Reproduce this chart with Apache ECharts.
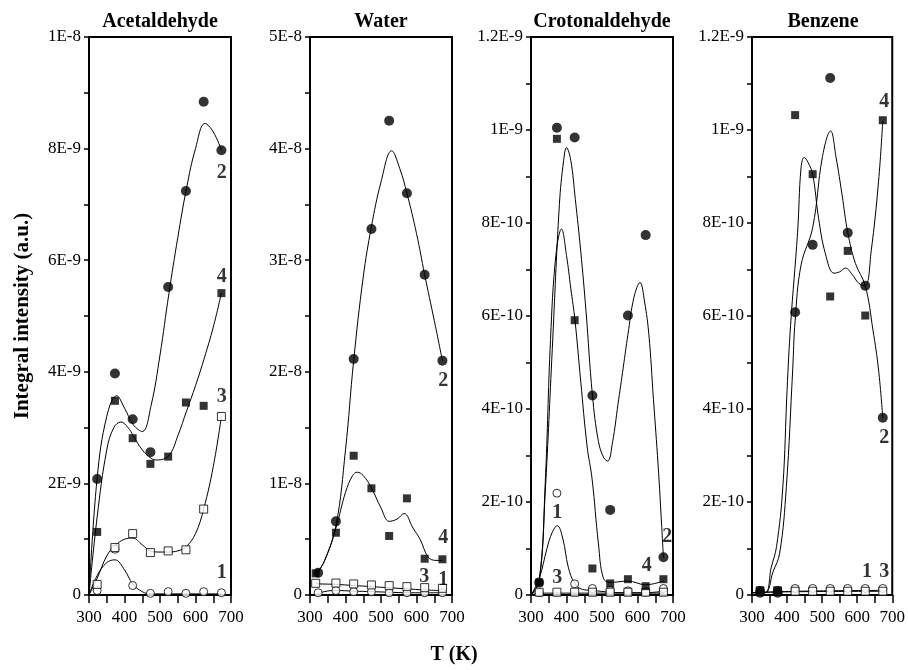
<!DOCTYPE html>
<html>
<head>
<meta charset="utf-8">
<script src="https://cdn.jsdelivr.net/npm/echarts@6/dist/echarts.min.js"></script>
<style>
  html, body { margin: 0; padding: 0; background: #fff; }
  #chart { width: 908px; height: 670px; }
</style>
</head>
<body>
<div id="chart"></div>
<script>
// measured temperatures (K)
const temps = [323, 373, 423, 473, 523, 573, 623, 673]
const waterSquareT = [316, 373, 423, 473, 523, 573, 623, 673]

// Acetaldehyde, units of 1E-9
const acetTicks = ['0', '2E-9', '4E-9', '6E-9', '8E-9', '1E-8']
const acetS1 = [0.08, 0.82, 0.17, 0.03, 0.06, 0.03, 0.06, 0.04]
const acetS2 = [2.08, 3.97, 3.15, 2.56, 5.52, 7.24, 8.84, 7.97]
const acetS3 = [0.19, 0.85, 1.10, 0.76, 0.79, 0.81, 1.54, 3.20]
const acetS4 = [1.13, 3.48, 2.81, 2.35, 2.48, 3.45, 3.39, 5.41]
const acetFit1 = [[300, 0], [323, 0.35], [350, 0.58], [373, 0.63], [400, 0.45], [423, 0.2], [450, 0.06], [475, 0.02], [525, 0.02], [575, 0.02], [625, 0.02], [673, 0.02]]
const acetFit2 = [[300, 0], [323, 2.1], [350, 3.2], [378, 3.57], [400, 3.35], [425, 3.05], [450, 2.93], [475, 3.4], [500, 4.3], [525, 5.4], [550, 6.4], [575, 7.3], [600, 8.0], [627, 8.45], [650, 8.3], [673, 7.97]]
const acetFit3 = [[300, 0], [323, 0.3], [350, 0.7], [373, 0.88], [400, 1.0], [423, 1.02], [450, 0.9], [473, 0.79], [500, 0.77], [523, 0.77], [550, 0.79], [573, 0.86], [600, 1.1], [623, 1.54], [650, 2.3], [673, 3.2]]
const acetFit4 = [[300, 0], [323, 1.4], [350, 2.6], [370, 3.0], [390, 3.1], [410, 3.0], [425, 2.85], [450, 2.6], [475, 2.45], [491, 2.42], [525, 2.5], [550, 2.85], [575, 3.3], [600, 3.75], [625, 4.25], [650, 4.8], [673, 5.41]]
const acetLabels = [[674, 7.56, '2'], [674, 5.7, '4'], [674, 3.55, '3'], [674, 0.39, '1']]

// Water, units of 1E-8
const waterTicks = ['0', '1E-8', '2E-8', '3E-8', '4E-8', '5E-8']
const waterS1 = [0.02, 0.04, 0.03, 0.03, 0.02, 0.02, 0.02, 0.02]
const waterS2 = [0.2, 0.66, 2.115, 3.28, 4.25, 3.6, 2.87, 2.1]
const waterS3 = [0.105, 0.107, 0.099, 0.09, 0.084, 0.075, 0.066, 0.06]
const waterS4 = [0.194, 0.558, 1.248, 0.956, 0.529, 0.866, 0.325, 0.32]
const waterFit1 = [[316, 0.0], [340, 0.03], [373, 0.04], [423, 0.035], [473, 0.03], [523, 0.025], [573, 0.02], [623, 0.02], [673, 0.02]]
const waterFit2 = [[316, 0.18], [340, 0.3], [373, 0.62], [400, 1.3], [423, 2.1], [450, 2.85], [473, 3.3], [500, 3.7], [530, 3.98], [553, 3.82], [573, 3.6], [600, 3.24], [623, 2.87], [650, 2.46], [673, 2.1]]
const waterFit3 = [[316, 0.1], [373, 0.095], [423, 0.085], [473, 0.075], [523, 0.065], [573, 0.055], [623, 0.045], [673, 0.04]]
const waterFit4 = [[316, 0.18], [340, 0.3], [373, 0.6], [400, 0.92], [420, 1.07], [433, 1.1], [450, 1.07], [473, 0.96], [500, 0.78], [523, 0.66], [545, 0.68], [565, 0.73], [590, 0.6], [610, 0.5], [633, 0.34], [655, 0.31], [673, 0.31]]
const waterLabels = [[675, 1.92, '2'], [675, 0.508, '4'], [622, 0.159, '3'], [675, 0.134, '1']]

// Crotonaldehyde, units of 1E-10
const crotTicks = ['0', '2E-10', '4E-10', '6E-10', '8E-10', '1E-9', '1.2E-9']
const crotS1 = [0.05, 2.19, 0.24, 0.14, 0.1, 0.09, 0.06, 0.14]
const crotS2 = [0.27, 10.05, 9.84, 4.29, 1.83, 6.01, 7.74, 0.81]
const crotS3 = [0.06, 0.06, 0.06, 0.06, 0.06, 0.06, 0.06, 0.06]
const crotS4 = [0.27, 9.81, 5.91, 0.57, 0.25, 0.34, 0.19, 0.34]
const crotFit1 = [[300, 0], [323, 0.35], [345, 1.0], [360, 1.35], [374, 1.49], [390, 1.2], [405, 0.6], [423, 0.25], [445, 0.12], [473, 0.1], [523, 0.06], [573, 0.05], [623, 0.05], [673, 0.08]]
const crotFit2 = [[300, 0], [323, 0.3], [340, 2.2], [360, 5.3], [380, 8.4], [392, 9.35], [400, 9.62], [412, 9.35], [425, 8.5], [440, 7.4], [455, 6.1], [473, 4.3], [490, 3.3], [505, 2.95], [516, 2.88], [530, 3.3], [545, 4.1], [560, 4.9], [573, 5.6], [590, 6.4], [607, 6.72], [620, 6.3], [632, 5.6], [645, 4.2], [658, 2.8], [668, 1.5], [673, 0.8]]
const crotFit3 = [[300, 0], [323, 0.04], [473, 0.04], [673, 0.04]]
const crotFit4 = [[300, 0], [323, 0.3], [340, 2.4], [355, 5.5], [370, 7.3], [386, 7.87], [400, 7.3], [412, 6.6], [424, 5.9], [440, 4.6], [458, 3.2], [472, 2.5], [490, 1.1], [504, 0.36], [523, 0.27], [573, 0.3], [623, 0.22], [673, 0.3]]
const crotLabels = [[684, 1.25, '2'], [626, 0.62, '4'], [374, 1.76, '1'], [374, 0.36, '3']]

// Benzene, units of 1E-10
const benzTicks = ['0', '2E-10', '4E-10', '6E-10', '8E-10', '1E-9', '1.2E-9']
const benzS1 = [0.1, 0.1, 0.14, 0.14, 0.14, 0.14, 0.14, 0.14]
const benzS2 = [0.05, 0.05, 6.08, 7.53, 11.12, 7.79, 6.65, 3.81]
const benzS3 = [0.08, 0.08, 0.08, 0.08, 0.08, 0.08, 0.08, 0.08]
const benzS4 = [0.1, 0.1, 10.32, 9.05, 6.42, 7.4, 6.01, 10.21]
const benzFit1 = [[300, 0.05], [423, 0.08], [673, 0.1]]
const benzFit2 = [[300, 0.05], [337, 0.05], [360, 0.5], [379, 0.9], [398, 2.33], [416, 4.84], [423, 5.9], [440, 7.1], [473, 7.9], [501, 9.43], [524, 9.98], [540, 9.4], [557, 8.6], [573, 7.8], [595, 7.13], [623, 6.65], [645, 5.7], [661, 4.84], [673, 3.81]]
const benzFit3 = [[300, 0.05], [423, 0.07], [673, 0.08]]
const benzFit4 = [[300, 0.05], [337, 0.05], [355, 0.6], [370, 1.04], [388, 2.33], [400, 4.4], [410, 5.8], [430, 7.8], [440, 9.2], [449, 9.41], [460, 9.3], [473, 9.05], [490, 8.1], [509, 7.35], [534, 6.92], [550, 6.95], [567, 7.03], [585, 6.9], [605, 6.7], [623, 6.65], [640, 7.4], [661, 8.9], [673, 10.2]]
const benzLabels = [[677, 10.61, '4'], [677, 3.37, '2'], [628, 0.5, '1'], [677, 0.5, '3']]

const FONT = "'Liberation Serif', 'Times New Roman', serif"

const panels = [
  { name: 'Acetaldehyde', left: 89, max: 10, interval: 2, ticks: acetTicks, t3: temps, s1: acetS1, s2: acetS2, s3: acetS3, s4: acetS4, fits: [acetFit1, acetFit2, acetFit3, acetFit4], labels: acetLabels },
  { name: 'Water', left: 310, max: 5, interval: 1, ticks: waterTicks, t3: waterSquareT, s1: waterS1, s2: waterS2, s3: waterS3, s4: waterS4, fits: [waterFit1, waterFit2, waterFit3, waterFit4], labels: waterLabels },
  { name: 'Crotonaldehyde', left: 531, max: 12, interval: 2, ticks: crotTicks, t3: temps, s1: crotS1, s2: crotS2, s3: crotS3, s4: crotS4, fits: [crotFit1, crotFit2, crotFit3, crotFit4], labels: crotLabels },
  { name: 'Benzene', left: 752, max: 12, interval: 2, ticks: benzTicks, t3: temps, s1: benzS1, s2: benzS2, s3: benzS3, s4: benzS4, fits: [benzFit1, benzFit2, benzFit3, benzFit4], labels: benzLabels }
]

const zip = (xs, ys) => xs.map((x, i) => [x, ys[i]])

const grid = []
const xAxis = []
const yAxis = []
const series = []
const graphic = []

panels.forEach((p, i) => {
  grid.push({
    left: p.left, top: 37, width: 142, height: 558,
    show: true, borderColor: '#000', borderWidth: 2, backgroundColor: 'transparent'
  })
  xAxis.push({
    type: 'value', gridIndex: i, min: 300, max: 700, interval: 100,
    axisLine: { lineStyle: { color: '#000', width: 2 } },
    axisTick: { length: 8, lineStyle: { color: '#000', width: 1.5 } },
    minorTick: { show: true, splitNumber: 2, length: 8, lineStyle: { color: '#000', width: 1.5 } },
    splitLine: { show: false },
    axisLabel: { color: '#000', fontFamily: FONT, fontSize: 17, margin: 14 }
  })
  yAxis.push({
    type: 'value', gridIndex: i, min: 0, max: p.max, interval: p.interval,
    name: i === 0 ? 'Integral intensity (a.u.)' : '',
    nameLocation: 'middle', nameGap: 56,
    nameTextStyle: { color: '#000', fontFamily: FONT, fontSize: 21, fontWeight: 'bold' },
    axisLine: { show: true, lineStyle: { color: '#000', width: 2 } },
    axisTick: { show: true, length: 5, lineStyle: { color: '#000', width: 1.5 } },
    minorTick: { show: true, splitNumber: 2, length: 5, lineStyle: { color: '#000', width: 1.5 } },
    splitLine: { show: false },
    axisLabel: {
      color: '#000', fontFamily: FONT, fontSize: 17, margin: 8,
      formatter: v => p.ticks[Math.round(v / p.interval)]
    }
  })

  // fitted curves
  p.fits.forEach(f => {
    series.push({
      type: 'line', xAxisIndex: i, yAxisIndex: i, data: f,
      smooth: 0.4, showSymbol: false, symbol: 'none',
      lineStyle: { color: '#000', width: 1 }, z: 2, silent: true
    })
  })
  series.push({
    type: 'scatter', xAxisIndex: i, yAxisIndex: i, data: zip(temps, p.s1),
    symbol: 'circle', symbolSize: 8,
    itemStyle: { color: '#fff', borderColor: '#000', borderWidth: 1 }, z: 3
  })
  series.push({
    type: 'scatter', xAxisIndex: i, yAxisIndex: i, data: zip(p.t3, p.s3),
    symbol: 'rect', symbolSize: 8,
    itemStyle: { color: '#fff', borderColor: '#000', borderWidth: 1 }, z: 4
  })
  series.push({
    type: 'scatter', xAxisIndex: i, yAxisIndex: i, data: zip(p.t3, p.s4),
    symbol: 'rect', symbolSize: 8,
    itemStyle: { color: '#000' }, z: 5
  })
  series.push({
    type: 'scatter', xAxisIndex: i, yAxisIndex: i, data: zip(temps, p.s2),
    symbol: 'circle', symbolSize: 10,
    itemStyle: { color: '#000' }, z: 6
  })
  // curve numbers
  series.push({
    type: 'scatter', xAxisIndex: i, yAxisIndex: i, data: p.labels,
    symbol: 'circle', symbolSize: 1,
    itemStyle: { color: 'rgba(0,0,0,0)' },
    label: {
      show: true, position: 'inside', color: '#000',
      fontFamily: FONT, fontSize: 20, fontWeight: 'bold',
      formatter: prm => prm.value[2]
    },
    z: 7, silent: true
  })

  graphic.push({
    type: 'text', x: p.left + 71, y: 22,
    style: { text: p.name, fill: '#000', font: 'bold 20px ' + FONT, textAlign: 'center', textVerticalAlign: 'middle' }
  })
})

graphic.push({
  type: 'text', x: 454, y: 655,
  style: { text: 'T (K)', fill: '#000', font: 'bold 20px ' + FONT, textAlign: 'center', textVerticalAlign: 'middle' }
})

const chart = echarts.init(document.getElementById('chart'), null, { renderer: 'canvas' })
chart.setOption({
  backgroundColor: '#fff',
  animation: false,
  grid, xAxis, yAxis, series, graphic
})
</script>
</body>
</html>
